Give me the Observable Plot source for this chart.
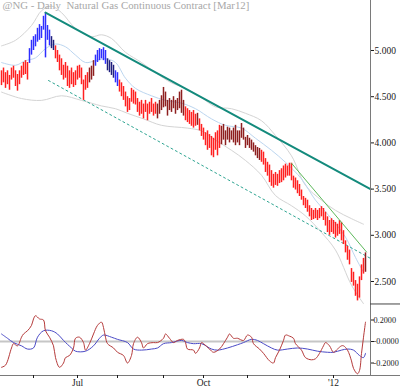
<!DOCTYPE html>
<html>
<head>
<meta charset="utf-8">
<script src="https://cdn.jsdelivr.net/npm/d3@7"></script>
<script src="https://cdn.jsdelivr.net/npm/@observablehq/plot@0.6"></script>
<style>
  html, body { margin: 0; padding: 0; background: #fff; }
  #chart { width: 400px; height: 389px; overflow: hidden; }
  #chart svg { display: block; }
</style>
</head>
<body>
<div id="chart"></div>
<script>
// ---- Data (trading-day index 0 = early May 2011 ... 182 = late Jan 2012) ----
const chartTitle = "@NG - Daily  Natural Gas Continuous Contract [Mar12]";

const barHigh = [4.78,4.81,4.76,4.78,4.73,4.81,4.83,4.78,4.74,4.78,
4.83,4.87,4.89,4.87,5.02,5.11,5.15,5.17,5.24,5.28,
5.26,5.37,5.41,5.27,5.22,5.15,5.11,5.05,5.00,4.95,
4.91,4.84,4.87,4.83,4.78,4.81,4.76,4.78,4.83,4.84,
4.81,4.68,4.73,4.76,4.81,4.83,4.89,4.95,5.00,5.02,
5.01,5.03,5.00,4.91,4.89,4.87,4.84,4.78,4.76,4.68,
4.65,4.61,4.55,4.50,4.48,4.59,4.57,4.55,4.48,4.44,
4.46,4.42,4.46,4.42,4.44,4.48,4.42,4.44,4.42,4.46,
4.51,4.60,4.55,4.46,4.48,4.46,4.50,4.46,4.48,4.55,
4.57,4.46,4.39,4.37,4.35,4.33,4.35,4.31,4.32,4.26,
4.20,4.16,4.11,4.13,4.09,4.07,4.05,4.11,4.13,4.19,
4.18,4.20,4.13,4.17,4.16,4.13,4.16,4.19,4.13,4.13,
4.21,4.16,4.06,4.08,4.05,4.03,4.00,3.97,3.95,3.94,
3.92,3.90,3.83,3.79,3.76,3.70,3.66,3.68,3.66,3.70,
3.72,3.75,3.77,3.75,3.78,3.78,3.64,3.62,3.59,3.55,
3.49,3.42,3.40,3.38,3.32,3.29,3.27,3.29,3.27,3.29,
3.31,3.29,3.25,3.20,3.16,3.18,3.16,3.14,3.12,3.16,
3.14,3.05,2.94,2.88,2.84,2.64,2.60,2.51,2.47,2.55,
2.68,2.75,2.81];

const barLow = [4.62,4.65,4.59,4.63,4.57,4.68,4.70,4.61,4.56,4.63,
4.70,4.73,4.74,4.68,4.86,4.95,5.00,5.04,5.09,5.11,
5.13,5.22,4.92,5.11,5.05,5.02,5.00,4.91,4.87,4.78,
4.73,4.68,4.70,4.61,4.59,4.63,4.60,4.62,4.68,4.70,
4.63,4.46,4.57,4.59,4.65,4.68,4.72,4.83,4.87,4.89,
4.91,4.89,4.85,4.78,4.76,4.73,4.70,4.65,4.61,4.55,
4.50,4.46,4.39,4.33,4.35,4.44,4.42,4.41,4.33,4.29,
4.31,4.26,4.33,4.24,4.31,4.33,4.29,4.31,4.26,4.31,
4.35,4.38,4.39,4.29,4.35,4.33,4.37,4.31,4.35,4.37,
4.32,4.29,4.24,4.22,4.20,4.18,4.16,4.18,4.19,4.13,
4.07,4.03,3.97,3.92,3.94,3.86,3.84,3.92,3.86,3.94,
3.98,4.03,3.97,4.03,4.00,4.03,4.00,3.97,4.00,3.97,
4.05,4.03,3.94,3.97,3.94,3.92,3.90,3.86,3.83,3.81,
3.79,3.76,3.68,3.64,3.57,3.53,3.51,3.54,3.53,3.56,
3.57,3.59,3.62,3.64,3.64,3.59,3.51,3.49,3.45,3.42,
3.38,3.32,3.29,3.25,3.20,3.16,3.17,3.18,3.16,3.18,
3.20,3.16,3.10,3.03,3.00,3.03,3.01,2.97,2.99,3.01,
2.94,2.90,2.81,2.73,2.68,2.49,2.45,2.34,2.29,2.32,
2.51,2.58,2.60];

// bar state: R = down, B = up, D = down (weak), N = up (weak)
const barState = (
  "RRRRRRRRRR" + "RRRRBBBBBB" + "BBBBBNNRRR" + "RRRRRRRRRR" + "RRRRDDDBBB" +
  "BBBNNNNBBR" + "RRRRRRRRRR" + "RRRRRRRRDD" + "DDDDDDDDDD" + "DDRRRRRRDR" +
  "RRRRRRRRRR" + "DDDDDDDDDD" + "DDDDDDDDDD" + "RRRRRRRRRR" + "RRRRRRRRRR" +
  "RRRRRRRRRR" + "RRRRRRRRRR" + "RRRRRRRRRR" + "RRD").split("");
const stateColors = {R: "#ff2020", B: "#2e2eff", D: "#8e1f1f", N: "#20207e"};

// envelope bands and moving average (index, price)
const upperIdx = [0,7,15,20,25,30,37,45,50,55,62,70,77,85,92,100,107,115,122,130,137,145,152,160,167,175,181];
const upperVal = [5.05,5.11,5.27,5.43,5.48,5.41,5.24,5.15,5.17,5.13,4.98,4.87,4.76,4.65,4.59,4.49,4.39,4.37,4.32,4.24,4.08,3.86,3.54,3.38,3.27,3.18,3.12];
const lowerIdx = [0,10,20,30,40,50,57,63,71,80,93,100,107,115,122,130,137,145,152,160,167,175,181];
const lowerVal = [4.55,4.48,4.46,4.51,4.46,4.40,4.37,4.32,4.26,4.19,4.16,4.13,4.03,3.92,3.81,3.65,3.43,3.32,3.21,3.03,2.84,2.46,2.26];
const maIdx = [0,7,12,17,22,27,32,37,42,47,52,57,62,67,75,82,90,97,105,112,120,127,135,142,150,157,165,172,177,181];
const maVal = [4.87,4.84,4.89,4.92,5.02,5.07,5.04,4.95,4.87,4.89,4.91,4.87,4.70,4.59,4.51,4.46,4.43,4.37,4.26,4.19,4.16,4.05,3.92,3.79,3.61,3.38,3.18,2.98,2.76,2.60];

// trend lines (index, price)
const trendMainIdx = [22, 184.5], trendMainVal = [5.41, 3.50];
const channelIdx = [23.5, 184.5], channelVal = [4.675, 2.75];
const shortTrendIdx = [145, 182.5], shortTrendVal = [3.78, 2.82];

// oscillator
const redOscIdx = [0,2,5,6,8,10,11,13,15,16,17,19,21,22,24,26,27,29,31,32,34,36,37,39,41,42,44,46,48,50,51,52,53,56,58,61,63,65,66,68,70,71,73,76,78,81,82,84,86,88,91,92,93,96,97,99,100,101,104,106,109,111,113,114,116,118,121,123,125,126,129,131,134,136,137,139,141,142,144,146,147,150,152,155,157,159,161,162,164,166,168,170,171,173,175,176,178,179,180,181,182];
const redOscVal = [-0.24,-0.22,-0.06,-0.02,-0.04,0.04,0.07,0.10,0.15,0.21,0.24,0.21,0.20,0.10,0.04,-0.04,-0.15,-0.24,-0.20,-0.15,-0.13,-0.06,0.03,0.04,-0.01,-0.08,-0.02,0.07,0.15,0.18,0.13,0.04,-0.02,-0.06,-0.10,-0.13,-0.20,-0.13,-0.02,0.04,-0.01,-0.06,-0.02,-0.01,-0.01,0.03,0.07,0.03,-0.01,0.01,0.02,-0.01,-0.07,-0.08,-0.11,-0.06,-0.01,-0.02,-0.07,-0.10,-0.07,-0.02,0.04,0.07,0.03,0.03,0.01,0.06,0.04,-0.02,-0.07,-0.11,-0.18,-0.20,-0.15,-0.08,0.01,0.06,0.05,0.03,-0.02,-0.08,-0.15,-0.17,-0.16,-0.11,-0.04,-0.01,-0.04,-0.10,-0.07,-0.04,-0.04,-0.08,-0.18,-0.25,-0.30,-0.27,-0.11,0.04,0.18];
const blueOscIdx = [0,3,6,10,13,16,18,21,25,28,31,35,37,42,46,49,51,55,58,63,66,70,75,78,81,85,90,93,96,100,105,108,113,118,121,125,128,131,135,138,143,148,153,158,163,166,170,173,176,179,181,182];
const blueOscVal = [0.07,0.03,-0.01,-0.04,-0.07,-0.06,0.04,0.10,0.10,0.07,0.01,-0.06,-0.09,-0.09,-0.04,0.03,0.06,0.04,0.02,-0.01,-0.07,-0.08,-0.07,-0.06,-0.02,-0.01,0.01,-0.01,-0.02,-0.02,-0.07,-0.08,-0.06,-0.03,-0.01,0.02,0.01,-0.02,-0.06,-0.08,-0.07,-0.06,-0.07,-0.09,-0.10,-0.10,-0.08,-0.07,-0.08,-0.13,-0.15,-0.11];

// axes
const priceTicks = [2.5, 3.0, 3.5, 4.0, 4.5, 5.0];
const oscTicks = [0.2, 0, -0.2];
const oscTickLabels = ["0.2000", "-0.0000", "-0.2000"];
const monthTickIdx = [16, 38, 58, 81, 101, 123, 144, 166];
const monthTickLabels = ["", "Jul", "", "", "Oct", "", "", "'12"];

// ---- Build tables ----
const bars = barHigh.map((h, i) => ({i, hi: h, lo: barLow[i], c: stateColors[barState[i]]}));
const pts = (idx, val) => idx.map((d, k) => ({i: d, v: val[k]}));
const upper = pts(upperIdx, upperVal), lower = pts(lowerIdx, lowerVal), ma = pts(maIdx, maVal);
const trendMain = pts(trendMainIdx, trendMainVal);
const channel = pts(channelIdx, channelVal);
const shortTrend = pts(shortTrendIdx, shortTrendVal);
const redOsc = pts(redOscIdx, redOscVal), blueOsc = pts(blueOscIdx, blueOscVal);
const oscLab = new Map(oscTicks.map((d, k) => [d, oscTickLabels[k]]));
const monLab = new Map(monthTickIdx.map((d, k) => [d, monthTickLabels[k]]));

const font = "'Liberation Serif', 'DejaVu Serif', serif";
const baseStyle = {fontFamily: font, fontSize: "9.5px", color: "#1a1a1a", background: "white", overflow: "visible", whiteSpace: "pre"};
const XDOM = [-0.5, 184.5];
const XAXIS = 184.5;
const XEDGE = 199.5;

const priceChart = Plot.plot({
  width: 400, height: 303,
  marginLeft: 0, marginRight: 30, marginTop: 0, marginBottom: 0,
  x: {domain: XDOM, axis: null},
  y: {domain: [2.262, 5.541]},
  style: baseStyle,
  marks: [
    Plot.line(upper, {x: "i", y: "v", stroke: "#d4d4d4", strokeWidth: 1, curve: "catmull-rom"}),
    Plot.line(lower, {x: "i", y: "v", stroke: "#d4d4d4", strokeWidth: 1, curve: "catmull-rom"}),
    Plot.line(ma, {x: "i", y: "v", stroke: "#bcd6f0", strokeWidth: 1, curve: "catmull-rom"}),
    Plot.line(channel, {x: "i", y: "v", stroke: "#2fa592", strokeWidth: 1, strokeDasharray: "2,3"}),
    Plot.ruleX(bars, {x: "i", y1: "lo", y2: "hi", stroke: d => d.c, strokeWidth: 1.5}),
    Plot.line(shortTrend, {x: "i", y: "v", stroke: "#5cb85a", strokeWidth: 1}),
    Plot.line(trendMain, {x: "i", y: "v", stroke: "#138a7c", strokeWidth: 2}),
    Plot.ruleX([XAXIS], {stroke: "#7a7a7a"}),
    Plot.axisY({anchor: "right", ticks: priceTicks, tickFormat: d3.format(".3f"), tickSize: 3, tickPadding: 1, label: null}),
    Plot.text([chartTitle], {frameAnchor: "top-left", dx: 2, dy: 1, fill: "#a8a8a8", fontSize: 10.8, fontFamily: font})
  ]
});

const oscChart = Plot.plot({
  width: 400, height: 86,
  marginLeft: 0, marginRight: 30, marginTop: 0, marginBottom: 14,
  x: {domain: XDOM},
  y: {domain: [-0.316, 0.3535]},
  style: baseStyle,
  marks: [
    Plot.ruleY([0], {x1: XDOM[0], x2: XAXIS, stroke: "#c6c6c6", strokeWidth: 2}),
    Plot.line(blueOsc, {x: "i", y: "v", stroke: "#4a4ac6", strokeWidth: 1, curve: "catmull-rom"}),
    Plot.line(redOsc, {x: "i", y: "v", stroke: "#b53a3a", strokeWidth: 1, curve: "catmull-rom"}),
    Plot.ruleX([XAXIS], {stroke: "#7a7a7a"}),
    Plot.ruleY([-0.316], {x1: XDOM[0], x2: XEDGE, stroke: "#7a7a7a"}),
    Plot.ruleY([0.349], {x1: XAXIS, x2: XEDGE, stroke: "#444"}),
    Plot.axisY({anchor: "right", ticks: oscTicks, tickFormat: d => oscLab.get(d), tickSize: 3, tickPadding: 0, fontSize: 8.2, label: null}),
    Plot.axisX({anchor: "bottom", ticks: monthTickIdx, tickFormat: d => monLab.get(d), tickSize: 3, tickPadding: 1, label: null})
  ]
});

document.getElementById("chart").append(priceChart, oscChart);
</script>
</body>
</html>
